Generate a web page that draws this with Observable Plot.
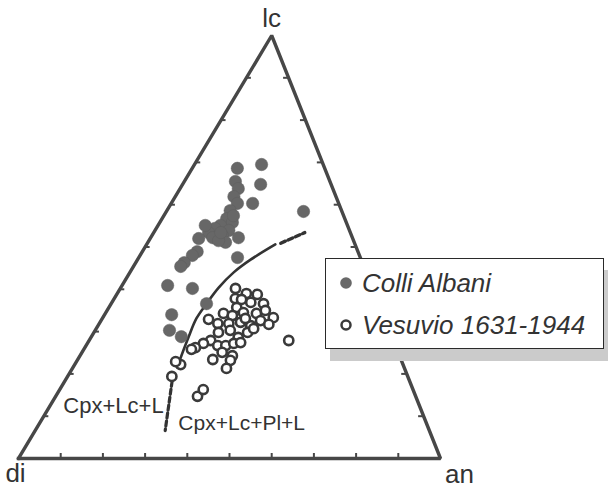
<!DOCTYPE html>
<html>
<head>
<meta charset="utf-8">
<script src="https://cdn.jsdelivr.net/npm/d3@7"></script>
<script src="https://cdn.jsdelivr.net/npm/@observablehq/plot@0.6"></script>
<style>
  body { margin: 0; background: #fff; }
  #wrap { position: relative; width: 608px; height: 490px; font-family: "Liberation Sans", Arial, Helvetica, sans-serif; color: #333; }
  #legend { position: absolute; left: 325px; top: 258px; width: 277px; height: 89px; border: 1.6px solid #2a2a2a; background: #fff; box-shadow: 5px 12px 0 #cbcbcb; }
  .item { position: absolute; left: 0; height: 30px; display: flex; align-items: center; font-style: italic; font-size: 26px; color: #333; white-space: nowrap; }
  .item svg { margin-left: 12px; margin-right: 8px; }
</style>
</head>
<body>
<div id="wrap">
  <div id="chart"></div>
  <div id="legend">
    <div class="item" style="top:9px"><svg width="16" height="16"><circle cx="8" cy="8" r="5.8" fill="#686868"/></svg>Colli Albani</div>
    <div class="item" style="top:51px"><svg width="16" height="16"><circle cx="8" cy="8" r="4.5" fill="#fff" stroke="#3a3a3a" stroke-width="2.5"/></svg>Vesuvio 1631-1944</div>
  </div>
</div>
<script>
// Ternary data: an (%) and lc (%); di = 100 - an - lc
const albaniAn = [10.7,15.9,12.1,18.5,13.8,13.9,15.7,15.0,19.3,15.3,17.2,14.8,13.9,13.0,17.5,16.7,14.7,11.5,18.4,20.8,16.5,32.5,23.4,13.0,12.4,11.5,11.2,10.8,17.1,22.6,15.9,17.6,21.3,11.2,16.5,15.9];
const albaniLc = [68.6,69.5,65.5,64.8,63.8,61.9,60.3,58.6,60.3,56.7,55.8,55.1,54.4,53.4,53.9,52.7,52.2,52.0,51.1,52.2,51.5,58.4,47.5,48.9,48.0,46.3,45.4,40.9,40.2,36.6,34.0,30.3,28.8,55.1,57.4,53.4];

const vesuvioAn = [27.3,30.6,33.3,28.7,32.9,36.1,30.3,28.0,30.4,32.6,35.8,37.5,40.4,25.3,28.1,30.7,33.3,36.2,37.8,29.5,32.0,34.9,36.4,37.3,28.8,27.5,26.2,25.5,31.2,33.1,34.7,36.2,33.2,36.1,32.0,36.3,36.5,47.3,25.1,23.5,24.7,33.6,34.0,30.3,40.3,33.9];
const vesuvioLc = [40.2,39.0,38.8,37.8,36.9,36.6,35.7,34.3,33.8,34.5,34.3,35.0,33.3,32.9,31.9,31.9,32.2,31.4,32.6,29.8,30.3,28.6,29.8,30.7,27.9,27.2,26.2,25.8,26.7,26.7,27.2,27.4,25.1,24.3,23.4,23.2,21.3,27.9,22.2,22.9,19.4,14.7,16.3,37.6,31.7,33.1];

// cotectic boundary
const boundaryAn = [24.8,24.2,23.1,22.3,22.6,23.2,24.6,26.8,30.5];
const boundaryLc = [21.5,23.6,28.6,33.1,36.6,40.4,44.0,47.0,50.6];
const upperDashAn = [31.6,35.8];
const upperDashLc = [50.9,53.4];
const lowerDashAn = [24.6,30.8];
const lowerDashLc = [20.1,6.6];

const vertexNames = ["di","an","lc"];
const fieldNames = ["Cpx+Lc+L","Cpx+Lc+Pl+L"];
const fieldAn = [26.9,32.9];
const fieldLc = [12.5,8.3];
const tickSteps = [10,20,30,40,50,60,70,80,90];

// ternary -> cartesian (triangle is drawn with apex skewed as in the scan)
const skew = 0.6;
const X = (an, lc) => (an + skew * lc) / 100;
const Y = (an, lc) => lc / 100;
const pts = (A, L) => A.map((a, i) => ({x: X(a, L[i]), y: Y(a, L[i])}));

const albani = pts(albaniAn, albaniLc);
const vesuvio = pts(vesuvioAn, vesuvioLc);
const boundary = pts(boundaryAn, boundaryLc);
const upperDash = pts(upperDashAn, upperDashLc);
const lowerDash = pts(lowerDashAn, lowerDashLc);
const fields = pts(fieldAn, fieldLc).map((p, i) => ({...p, name: fieldNames[i]}));

const vAn = [0, 100, 0], vLc = [0, 0, 100];
const vertices = vertexNames.map((n, i) => ({name: n, x: X(vAn[i], vLc[i]), y: Y(vAn[i], vLc[i])}));
const outline = [...vertices, vertices[0]];

const xr = [18, 440], yr = [458, 35];
const tx = 5 / (xr[1] - xr[0]);   // tick length in x units
const ty = 5 / (yr[0] - yr[1]);   // tick length in y units

const baseTicks = tickSteps.map(s => ({x: X(s, 0)}));
const leftTicks = tickSteps.map(s => ({y: Y(0, s), x1: X(0, s), x2: X(0, s) + tx}));
const rightTicks = tickSteps.map(s => ({y: Y(100 - s, s), x1: X(100 - s, s), x2: X(100 - s, s) - tx}));

const ink = "#474747";
const chart = Plot.plot({
  width: 608, height: 490,
  marginTop: 0, marginBottom: 0, marginLeft: 0, marginRight: 0,
  x: {domain: [0, 1], range: xr, axis: null},
  y: {domain: [0, 1], range: yr, axis: null},
  style: {fontFamily: "'Liberation Sans', Arial, Helvetica, sans-serif", background: "transparent"},
  marks: [
    Plot.ruleX(baseTicks, {x: "x", y1: 0, y2: ty, stroke: ink, strokeWidth: 2}),
    Plot.ruleY(leftTicks, {y: "y", x1: "x1", x2: "x2", stroke: ink, strokeWidth: 2}),
    Plot.ruleY(rightTicks, {y: "y", x1: "x1", x2: "x2", stroke: ink, strokeWidth: 2}),
    Plot.line(outline, {x: "x", y: "y", stroke: ink, strokeWidth: 3.4, strokeLinejoin: "miter", strokeLinecap: "square"}),
    Plot.line(boundary, {x: "x", y: "y", stroke: "#333", strokeWidth: 2.6, curve: "catmull-rom"}),
    Plot.line(upperDash, {x: "x", y: "y", stroke: "#333", strokeWidth: 3.4, strokeDasharray: "5,3"}),
    Plot.line(lowerDash, {x: "x", y: "y", stroke: "#333", strokeWidth: 3.2, strokeDasharray: "5,3"}),
    Plot.dot(albani, {x: "x", y: "y", r: 6.2, fill: "#676767", stroke: "#5e5e5e", strokeWidth: 0.5}),
    Plot.dot(vesuvio, {x: "x", y: "y", r: 4.6, fill: "#fff", stroke: "#3a3a3a", strokeWidth: 2.6}),
    Plot.text(fields.slice(0, 1), {x: "x", y: "y", text: "name", textAnchor: "end", fontSize: 22, fill: "#333"}),
    Plot.text(fields.slice(1), {x: "x", y: "y", text: "name", textAnchor: "start", fontSize: 21, fill: "#333"}),
    Plot.text(vertices.slice(0, 1), {x: "x", y: "y", text: "name", fontSize: 26, dx: -3, dy: 15, fill: "#333"}),
    Plot.text(vertices.slice(1, 2), {x: "x", y: "y", text: "name", fontSize: 26, dx: 19, dy: 16, fill: "#333"}),
    Plot.text(vertices.slice(2), {x: "x", y: "y", text: "name", fontSize: 26, dy: -17, fill: "#333"})
  ]
});
document.getElementById("chart").appendChild(chart);
</script>
</body>
</html>
